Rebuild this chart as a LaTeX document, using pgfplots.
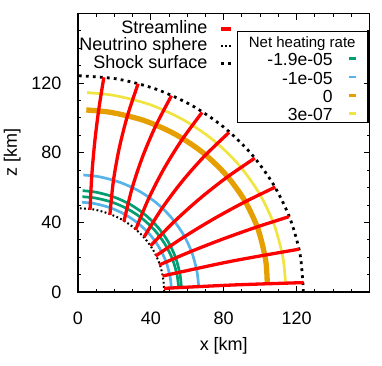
\documentclass[border=0pt]{standalone}
\usepackage{fontspec}
\setmainfont{Liberation Sans}
\usepackage{pgfplots}
\pgfplotsset{compat=1.18}
\definecolor{cgreen}{HTML}{009E73}
\definecolor{cblue}{HTML}{56B4E9}
\definecolor{corange}{HTML}{E69F00}
\definecolor{cyellow}{HTML}{F0E442}
\pgfplotsset{
  common/.style={width=291.5bp, height=278.4bp, scale only axis,
    xmin=0, xmax=160, ymin=0, ymax=160},
  shockline/.style={black, line width=2.8bp, dash pattern=on 2.8bp off 4.2bp},
  nuline/.style={black, line width=2bp, dash pattern=on 1.8bp off 2.4bp},
  stream/.style={red, line width=3.3bp, smooth, forget plot},
}
\begin{document}
\begin{tikzpicture}[font=\fontsize{18bp}{21bp}\selectfont]
% contours of the net heating rate (drawn first, under the streamlines)
\begin{axis}[common, hide axis,
  legend plot pos=right, legend cell align=right,
  legend image code/.code={\draw[#1] (0bp,0bp) -- (6.6bp,0bp);},
  legend style={at={(0.9966,0.9388)}, anchor=north east, draw=black,
    line width=1.2bp, fill=white, inner xsep=11bp, inner ysep=0bp,
    row sep=0pt, column sep=15bp, font=\fontsize{17.5bp}{20bp}\selectfont,
    nodes={inner sep=0pt, text height=16.2bp, text depth=2.1bp}},
]
\addplot[cblue, line width=2.7bp, smooth, data cs=polar, forget plot] coordinates {
 (2.5,51.3) (10,51.3) (20,51.35) (30,51.4) (40,51.45) (50,51.45) (60,51.5) (70,51.55) (80,51.6) (87.5,51.6)};
\addplot[cblue, line width=2.7bp, smooth, data cs=polar, forget plot] coordinates {
 (2.5,66.3) (10,66.35) (20,66.5) (30,66.6) (40,66.75) (50,66.9) (60,67.0) (70,67.1) (80,67.25) (87.5,67.3)};
\addplot[cgreen, line width=2.7bp, smooth, data cs=polar, forget plot] coordinates {
 (2.5,55.3) (10,55.25) (20,55.2) (30,55.1) (40,55.05) (50,55.0) (60,54.95) (70,54.9) (80,54.85) (87.5,54.8)};
\addplot[cgreen, line width=2.7bp, smooth, data cs=polar, forget plot] coordinates {
 (2.5,56.8) (10,56.9) (20,57.1) (30,57.3) (40,57.5) (50,57.7) (60,57.9) (70,58.05) (80,58.2) (87.5,58.3)};
\addplot[corange, line width=5.3bp, smooth, data cs=polar, forget plot] coordinates {
 (2.5,104.0) (10,104.6) (20,105.2) (30,105.5) (40,105.5) (50,105.4) (60,105.2) (70,105.0) (80,104.8) (87.5,104.7)};
\addplot[cyellow, line width=2.7bp, smooth, data cs=polar, forget plot] coordinates {
 (2.5,114.0) (10,114.2) (20,114.4) (30,114.5) (40,114.6) (50,114.6) (60,114.6) (70,114.7) (80,114.7) (87.5,114.7)};
\addlegendimage{empty legend}
\addlegendimage{cgreen, line width=2.7bp}
\addlegendimage{cblue, line width=2.7bp}
\addlegendimage{corange, line width=2.7bp}
\addlegendimage{cyellow, line width=2.7bp}
\legend{{\fontsize{15bp}{18bp}\selectfont Net heating rate\hspace*{-23bp}}, -1.9e-05, -1e-05, 0, 3e-07}
\end{axis}
% frame, spheres and streamlines
\begin{axis}[common,
  axis line style={line width=1.3bp},
  tick align=inside,
  every tick/.style={black, line width=1bp},
  major tick length=6bp, minor tick length=3bp,
  xtick={0,40,80,120}, ytick={0,40,80,120},
  minor xtick={0,10,...,160}, minor ytick={0,10,...,160},
  /pgf/number format/assume math mode=true,
  xticklabel style={inner sep=0pt, anchor=north, yshift=-19.7bp},
  yticklabel style={inner sep=0pt, anchor=east, xshift=-16.3bp},
  xlabel={x [km]}, ylabel={z [km]},
  xlabel style={at={(axis description cs:0.5,-0.2086)}, anchor=base, inner sep=0pt},
  ylabel style={at={(axis description cs:-0.2093,0.5)}, anchor=base, rotate=0, inner sep=0pt},
  legend plot pos=right, legend cell align=right,
  legend image code/.code={\draw[#1] (0bp,0bp) -- (10.6bp,0bp);},
  legend style={at={(0.5328,0.9773)}, anchor=north east, draw=none, fill=none,
    inner sep=0pt, row sep=0pt, column sep=11.7bp,
    nodes={inner sep=0pt, text height=13bp, text depth=4.5bp}},
]
\addplot[shockline, data cs=polar, smooth, forget plot] coordinates {
 (0,123.7) (10,123.8) (20,123.8) (30,123.8) (40,123.9) (50,124.0) (60,124.1) (70,124.2) (80,124.3) (90,124.3)};
\addplot[nuline, data cs=polar, smooth, forget plot] coordinates {
 (0,47.3) (10,47.4) (20,47.6) (30,47.8) (40,47.9) (50,48.0) (60,48.1) (70,48.1) (80,48.2) (90,48.2)};
\addplot[stream] coordinates {(6.6,47.2) (7.53,66.35) (9.11,85.43) (11.33,104.45) (14.2,123.4)};
\addplot[stream] coordinates {(17.5,44.3) (19.39,63.56) (22.61,82.54) (27.14,101.26) (33,119.7)};
\addplot[stream] coordinates {(25.2,40.5) (29.61,59.34) (35.43,77.67) (42.66,95.49) (51.3,112.8)};
\addplot[stream] coordinates {(31.6,35.7) (38.75,53.65) (47.21,70.88) (57.00,87.40) (68.1,103.2)};
\addplot[stream] coordinates {(36.2,31.5) (46.04,47.98) (57.10,63.50) (69.39,78.08) (82.9,91.7)};
\addplot[stream] coordinates {(39.8,26.5) (52.86,40.51) (66.75,53.58) (81.46,65.71) (97,76.9)};
\addplot[stream] coordinates {(42.6,20.7) (58.33,31.76) (74.52,42.04) (91.18,51.56) (108.3,60.3)};
\addplot[stream] coordinates {(44.5,15.5) (62.0,23.29) (79.71,30.52) (97.65,37.19) (115.8,43.3)};
\addplot[stream] coordinates {(46.4,9.2) (83.71,17.59) (121.3,24.6)};
\addplot[stream] coordinates {(47.3,2.1) (85.54,4.05) (123.8,5.4)};
\addlegendimage{red, line width=3.3bp}
\addlegendimage{nuline}
\addlegendimage{shockline}
\legend{Streamline, Neutrino sphere, Shock surface}
\end{axis}
\pgfresetboundingbox
\path ([shift={(-78bp,-74bp)}]current axis.south west) rectangle ([shift={(12.5bp,13.6bp)}]current axis.north east);
\end{tikzpicture}
\end{document}
